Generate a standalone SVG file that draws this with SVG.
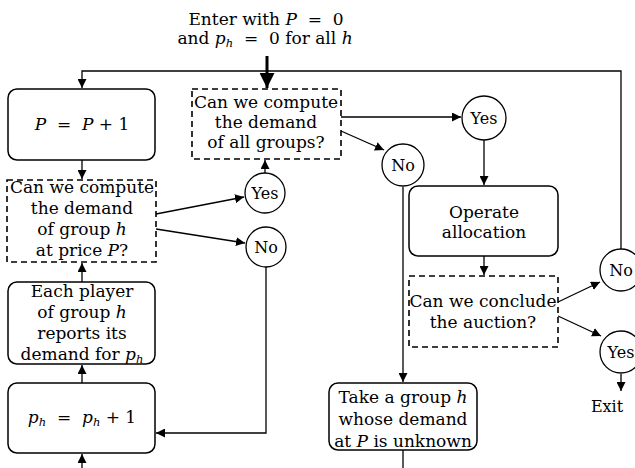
<svg xmlns="http://www.w3.org/2000/svg" width="635" height="468" viewBox="0 0 635 468">
<style>
text{font-family:"DejaVu Serif","Liberation Serif",serif;font-size:17px;fill:#000;text-anchor:middle}
.m{font-style:italic}
.s{font-size:11.5px;font-style:italic}
.cl{font-size:16px}
.box{fill:#fff;stroke:#000;stroke-width:1.5}
.dash{fill:#fff;stroke:#000;stroke-width:1.6;stroke-dasharray:6 4}
.c{fill:#fff;stroke:#000;stroke-width:1.3}
.ln{fill:none;stroke:#000;stroke-width:1.3}
</style>
<defs>
<marker id="a" viewBox="0 0 10 10" refX="10" refY="5" markerWidth="9" markerHeight="9" markerUnits="userSpaceOnUse" orient="auto"><path d="M0,0L10,5L0,10z" fill="#000"/></marker>
<marker id="ab" viewBox="0 0 10 10" refX="10" refY="5" markerWidth="15" markerHeight="15" markerUnits="userSpaceOnUse" orient="auto"><path d="M0,0L10,5L0,10z" fill="#000"/></marker>
</defs>
<g id="entry">
<text x="266" y="25">Enter with <tspan class="m">P</tspan>&#160;&#160;=&#160;&#160;0</text>
<text x="265" y="44">and <tspan class="m">p</tspan><tspan class="s" dy="3">h</tspan><tspan dy="-3">&#160;&#160;=&#160;&#160;0 for all </tspan><tspan class="m">h</tspan></text>
</g>
<g id="connectors">
<path class="ln" d="M621,249V71H82V88" marker-end="url(#a)"/>
<path d="M267,56V88" fill="none" stroke="#000" stroke-width="3" marker-end="url(#ab)"/>
<path class="ln" d="M82,160V179" marker-end="url(#a)"/>
<path class="ln" d="M82,282V263" marker-end="url(#a)"/>
<path class="ln" d="M82,383V365" marker-end="url(#a)"/>
<path class="ln" d="M82,468V454" marker-end="url(#a)"/>
<path class="ln" d="M156,214L244,197" marker-end="url(#a)"/>
<path class="ln" d="M156,229L245,243" marker-end="url(#a)"/>
<path class="ln" d="M265,173V160" marker-end="url(#a)"/>
<path class="ln" d="M266,267V433H156" marker-end="url(#a)"/>
<path class="ln" d="M341,117H461" marker-end="url(#a)"/>
<path class="ln" d="M341,131L384,150" marker-end="url(#a)"/>
<path class="ln" d="M484,140V185" marker-end="url(#a)"/>
<path class="ln" d="M403,187V382" marker-end="url(#a)"/>
<path class="ln" d="M484,256V275" marker-end="url(#a)"/>
<path class="ln" d="M558,302L600,282" marker-end="url(#a)"/>
<path class="ln" d="M558,316L601,336" marker-end="url(#a)"/>
<path class="ln" d="M621,374V391" marker-end="url(#a)"/>
<path class="ln" d="M403,450V468"/>
</g>
<g id="incP">
<rect class="box" x="8" y="89" width="147" height="71" rx="9"/>
<text x="82" y="130"><tspan class="m">P</tspan>&#160;&#160;=&#160;&#160;<tspan class="m">P</tspan> + 1</text>
</g>
<g id="qGroup">
<rect class="dash" x="7" y="180" width="149" height="82"/>
<text x="82" y="193">Can we compute</text>
<text x="82" y="214">the demand</text>
<text x="82" y="235">of group <tspan class="m">h</tspan></text>
<text x="82" y="256">at price <tspan class="m">P</tspan>?</text>
</g>
<g id="report">
<rect class="box" x="8" y="282" width="147" height="82" rx="9"/>
<text x="82" y="297">Each player</text>
<text x="82" y="318">of group <tspan class="m">h</tspan></text>
<text x="82" y="339">reports its</text>
<text x="82" y="360">demand for <tspan class="m">p</tspan><tspan class="s" dy="3">h</tspan></text>
</g>
<g id="incPh">
<rect class="box" x="8" y="383" width="147" height="70" rx="9"/>
<text x="82" y="423"><tspan class="m">p</tspan><tspan class="s" dy="3">h</tspan><tspan dy="-3">&#160;&#160;=&#160;&#160;</tspan><tspan class="m">p</tspan><tspan class="s" dy="3">h</tspan><tspan dy="-3"> + 1</tspan></text>
</g>
<g id="qAll">
<rect class="dash" x="192" y="89" width="149" height="70"/>
<text x="266" y="108">Can we compute</text>
<text x="266" y="128">the demand</text>
<text x="266" y="148">of all groups?</text>
</g>
<g id="yesL"><circle class="c" cx="265" cy="193" r="20"/><text class="cl" x="265" y="199">Yes</text></g>
<g id="noL"><circle class="c" cx="266" cy="247" r="20"/><text class="cl" x="266" y="253">No</text></g>
<g id="yesR"><circle class="c" cx="484" cy="118" r="22"/><text class="cl" x="484" y="124">Yes</text></g>
<g id="noM"><circle class="c" cx="403" cy="165" r="21"/><text class="cl" x="403" y="171">No</text></g>
<g id="alloc">
<rect class="box" x="409" y="186" width="149" height="70" rx="9"/>
<text x="484" y="218">Operate</text>
<text x="484" y="238">allocation</text>
</g>
<g id="qConclude">
<rect class="dash" x="409" y="276" width="149" height="71"/>
<text x="483" y="307">Can we conclude</text>
<text x="483" y="328">the auction?</text>
</g>
<g id="noR"><circle class="c" cx="621" cy="270" r="21"/><text class="cl" x="621" y="276">No</text></g>
<g id="yesR2"><circle class="c" cx="621" cy="352" r="21"/><text class="cl" x="621" y="358">Yes</text></g>
<g id="exit"><text class="cl" x="607" y="412">Exit</text></g>
<g id="take">
<rect class="box" x="329" y="383" width="148" height="67" rx="9"/>
<text x="403" y="403">Take a group <tspan class="m">h</tspan></text>
<text x="403" y="425">whose demand</text>
<text x="403" y="447">at <tspan class="m">P</tspan> is unknown</text>
</g>
</svg>
